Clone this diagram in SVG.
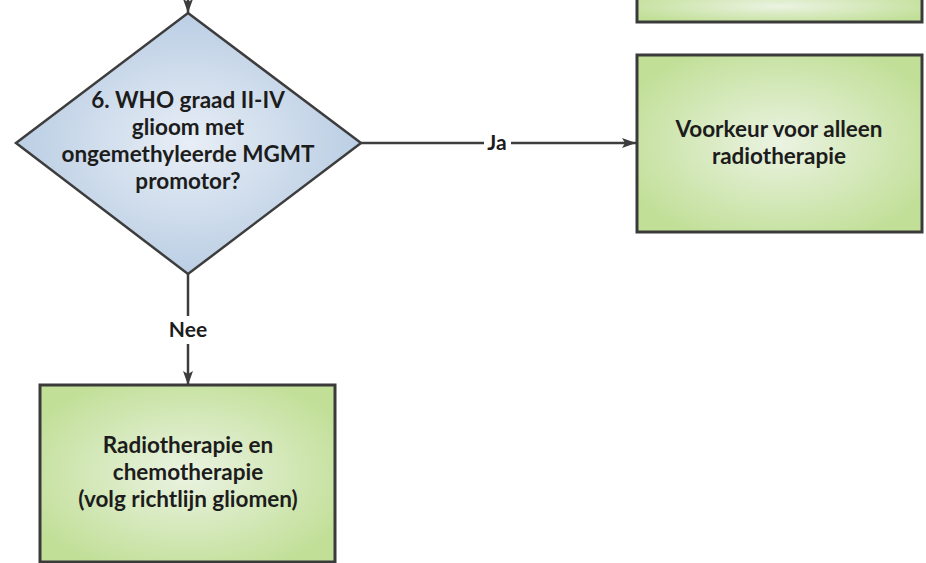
<svg xmlns="http://www.w3.org/2000/svg" width="926" height="563" viewBox="0 0 926 563">
  <defs>
    <radialGradient id="gGreen" cx="50%" cy="50%" r="60%">
      <stop offset="0%" stop-color="#ebf3e2"/>
      <stop offset="100%" stop-color="#c1df97"/>
    </radialGradient>
    <radialGradient id="gBlue" cx="50%" cy="50%" r="55%">
      <stop offset="0%" stop-color="#e8eef6"/>
      <stop offset="100%" stop-color="#b6cbe2"/>
    </radialGradient>
    <marker id="arr" viewBox="0 0 14 10" refX="14" refY="5" markerWidth="14" markerHeight="10" markerUnits="userSpaceOnUse" orient="auto">
      <path d="M0,0 L14,5 L0,10 L3,5 Z" fill="#3d3d3d"/>
    </marker>
    <style>
      .box { fill: url(#gGreen); stroke: #3a3a3a; stroke-width: 3; }
      .dia { fill: url(#gBlue); stroke: #3d3d3d; stroke-width: 2.5; }
      .txt { font-family: Lato, "Open Sans", sans-serif; font-weight: bold; font-size: 22.5px; fill: #1c1c1c; text-anchor: middle; }
      .conn { stroke: #3d3d3d; stroke-width: 2.5; fill: none; }
      .lbl { font-family: Lato, "Open Sans", sans-serif; font-weight: bold; font-size: 21px; fill: #1c1c1c; text-anchor: middle; }
    </style>
  </defs>
  <rect width="926" height="563" fill="#ffffff"/>

  <g id="connectors">
    <line class="conn" x1="188" y1="-20" x2="188" y2="13" marker-end="url(#arr)"/>
    <line class="conn" x1="361" y1="143" x2="484" y2="143"/>
    <line class="conn" x1="511" y1="143" x2="636" y2="143" marker-end="url(#arr)"/>
    <line class="conn" x1="188" y1="274" x2="188" y2="316"/>
    <line class="conn" x1="188" y1="344" x2="188" y2="385" marker-end="url(#arr)"/>
    <text class="lbl" x="497" y="150">Ja</text>
    <text class="lbl" x="188" y="337">Nee</text>
  </g>

  <g id="node-top">
    <rect class="box" x="637" y="-10" width="285" height="32"/>
  </g>

  <g id="node-decision">
    <polygon class="dia" points="188,13 361,143 188,274 16,143"/>
    <text class="txt" x="188" y="108">6. WHO graad II-IV</text>
    <text class="txt" x="188" y="135">glioom met</text>
    <text class="txt" x="188" y="162">ongemethyleerde MGMT</text>
    <text class="txt" x="188" y="189">promotor?</text>
  </g>

  <g id="node-radio">
    <rect class="box" x="637" y="55" width="285" height="177"/>
    <text class="txt" x="779" y="137">Voorkeur voor alleen</text>
    <text class="txt" x="779" y="164">radiotherapie</text>
  </g>

  <g id="node-chemo">
    <rect class="box" x="40" y="385" width="295" height="177"/>
    <text class="txt" x="188" y="453">Radiotherapie en</text>
    <text class="txt" x="188" y="480">chemotherapie</text>
    <text class="txt" x="188" y="507">(volg richtlijn gliomen)</text>
  </g>
</svg>
